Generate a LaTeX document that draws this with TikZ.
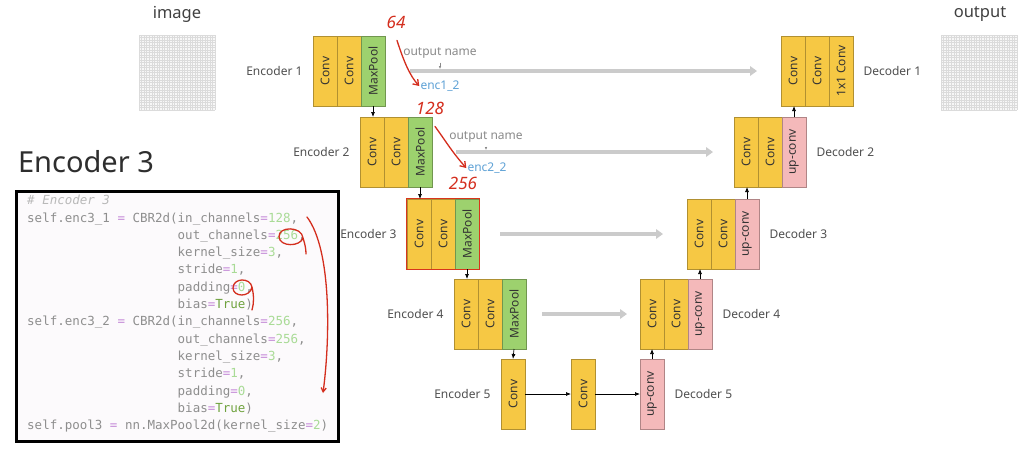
\documentclass[tikz,border=0pt]{standalone}
\usepackage{fontspec}
\setmainfont{Noto Sans}
\newfontfamily\codefont{DejaVu Sans Mono}
\usetikzlibrary{positioning,arrows.meta,fit}

\definecolor{convyel}{HTML}{F6C844}
\definecolor{poolgrn}{HTML}{9DD16E}
\definecolor{upcpink}{HTML}{F4B9BA}
\definecolor{labgray}{HTML}{505050}
\definecolor{skipgray}{HTML}{CBCBCB}
\definecolor{namegray}{HTML}{8A8A8A}
\definecolor{encblue}{HTML}{5FA2D6}
\definecolor{penred}{HTML}{D42E1E}
\definecolor{codegray}{HTML}{8E8E8E}
\definecolor{codeeq}{HTML}{C58BD8}
\definecolor{codenum}{HTML}{A9DB96}
\definecolor{codetrue}{HTML}{6FA23E}
\definecolor{codebg}{HTML}{FCFAFC}

% code helpers
\newcommand\ceq{\textcolor{codeeq}{=}}
\newcommand\cnum[1]{\textcolor{codenum}{#1}}
\newcommand\ctrue{\textcolor{codetrue}{True}}
\newcommand\cind{\phantom{self.enc3\_1 = CBR2d(}}

\tikzset{
  blk/.style={fill=#1, draw=#1!72!black, line width=0.5pt, minimum width=24, minimum height=70,
    inner sep=0, outer sep=0, font=\fontsize{12}{14}\selectfont, text=black!80},
  lbl/.style={font=\fontsize{12}{14}\selectfont, text=labgray},
  skip/.style={draw=skipgray, line width=4.5pt, -{Triangle[length=7pt,width=9.5pt]}},
  flow/.style={draw=black, line width=0.7pt, -{Latex[length=5pt,width=4pt]}},
  oname/.style={font=\fontsize{12}{14}\selectfont, text=namegray, inner sep=1pt},
  ename/.style={font=\fontsize{12}{14}\selectfont, text=encblue, inner sep=1pt},
  pen/.style={draw=penred, line width=1.3pt, line cap=round, line join=round},
  hand/.style={font=\fontsize{17}{18}\bfseries\itshape\selectfont, text=penred, inner sep=0}
}

\begin{document}
\begin{tikzpicture}[x=1pt, y=-1pt]
\useasboundingbox[fill=white] (0,0) rectangle (1034,456);

% input / output pictures
\node[font=\fontsize{16.5}{18}\selectfont, text=black!75] (imgtxt) at (177,14) {image};
\node[font=\fontsize{16.5}{18}\selectfont, text=black!75] (outtxt) at (980,14) {output};
\foreach \gx in {139,941} {
  \fill[gray!6] (\gx,35) rectangle ++(76,75);
  \foreach \k in {0,...,30} {
    \draw[gray!28, line width=0.3pt] (\gx+\k*2.533,35) -- ++(0,75);
    \draw[gray!28, line width=0.3pt] (\gx,35+\k*2.5) -- ++(76,0);
  }
}

% title and code
\node[font=\fontsize{29}{34}\selectfont, text=black!82] (title) at (86,162) {Encoder 3};
\fill[black!18] (18,193) rectangle (339,442);
\node[draw=black, line width=3pt, fill=codebg, minimum width=322, minimum height=250,
  anchor=north west, inner sep=0] (box) at (15,190) {};
\node[anchor=north west, inner sep=0, align=left, text=codegray,
  font=\codefont\fontsize{12.5}{17.3}\selectfont] (src) at (27,195) {%
{\itshape\color{gray!55}\# Encoder 3}\\
self.enc3\_1 \ceq{} CBR2d(in\_channels\ceq\cnum{128},\\
\cind out\_channels\ceq\cnum{256},\\
\cind kernel\_size\ceq\cnum{3},\\
\cind stride\ceq\cnum{1},\\
\cind padding\ceq\cnum{0},\\
\cind bias\ceq\ctrue)\\
self.enc3\_2 \ceq{} CBR2d(in\_channels\ceq\cnum{256},\\
\cind out\_channels\ceq\cnum{256},\\
\cind kernel\_size\ceq\cnum{3},\\
\cind stride\ceq\cnum{1},\\
\cind padding\ceq\cnum{0},\\
\cind bias\ceq\ctrue)\\
self.pool3 \ceq{} nn.MaxPool2d(kernel\_size\ceq\cnum{2})};

% encoders
\foreach \i/\x/\y in {1/313/36, 2/360/117, 3/407/199, 4/454/279} {
  \node[blk=convyel, anchor=north west] (e\i-1) at (\x,\y) {\rotatebox{90}{Conv}};
  \node[blk=convyel, right=0pt of e\i-1] (e\i-2) {\rotatebox{90}{Conv}};
  \node[blk=poolgrn, right=0pt of e\i-2] (e\i-3) {\rotatebox{90}{MaxPool}};
  \node[lbl, left=7pt of e\i-1] (el\i) {Encoder \i};
}
\node[blk=convyel, anchor=north west] (e5) at (501,359) {\rotatebox{90}{Conv}};
\node[lbl, left=7pt of e5] (el5) {Encoder 5};
\node[blk=convyel, anchor=north west] (mid) at (571,359) {\rotatebox{90}{Conv}};

% decoders
\foreach \i/\x/\y/\f/\t in {1/781/36/convyel/1x1 Conv, 2/734/117/upcpink/up-conv,
    3/687/199/upcpink/up-conv, 4/640/279/upcpink/up-conv} {
  \node[blk=convyel, anchor=north west] (d\i-1) at (\x,\y) {\rotatebox{90}{Conv}};
  \node[blk=convyel, right=0pt of d\i-1] (d\i-2) {\rotatebox{90}{Conv}};
  \node[blk=\f, right=0pt of d\i-2] (d\i-3) {\rotatebox{90}{\t}};
  \node[lbl, right=7pt of d\i-3] (dl\i) {Decoder \i};
}
\node[blk=upcpink, anchor=north west] (d5) at (640,359) {\rotatebox{90}{up-conv}};
\node[lbl, right=7pt of d5] (dl5) {Decoder 5};

% highlighted block
\node[draw=penred!90!orange, line width=1.6pt, fit=(e3-1)(e3-3), inner sep=0.6pt] (e3box) {};

% flow arrows
\foreach \i/\j in {1/2, 2/3, 3/4}
  \draw[flow] (e\i-3.south) -- (e\i-3.south |- e\j-1.north);
\draw[flow] (e4-3.south) -- (e5.north);
\draw[flow] (e5.east) -- (mid.west);
\draw[flow] (mid.east) -- (d5.west);
\draw[flow] (d5.north) -- (d4-1.south);
\foreach \i/\j in {4/3, 3/2, 2/1}
  \draw[flow] (d\i-3.north) -- (d\i-3.north |- d\j-1.south);

% skip connections
\foreach \i/\s/\t in {1/25/24, 2/24/21, 3/21/24, 4/16/13}
  \draw[skip, shorten <=\s pt, shorten >=\t pt] (e\i-3.east) -- (d\i-1.west);

% output names
\node[oname] (on1) at (440,53) {output name};
\node[oname] (on2) at (486,137) {output name};
\node[ename] (enc1) at (440,86) {enc1\_2};
\node[ename] (enc2) at (487,168) {enc2\_2};
\foreach \i in {1,2}
  \draw[namegray, line width=0.5pt, shorten <=3pt, shorten >=2pt, -{Latex[length=3pt,width=2.5pt]}]
    (on\i.south) -- (on\i.south |- e\i-3.east);

% handwritten notes
\node[hand] (n64) at (396,22) {64};
\node[hand] (n128) at (430,108) {128};
\node[hand] (n256) at (463,183) {256};
\draw[pen, -{Straight Barb[length=5pt,width=7pt]}] (n64.south) ++(1,12) .. controls (404,62) and (410,76) .. (enc1.west);
\draw[pen, -{Straight Barb[length=5pt,width=7pt]}] (n128.south) ++(5,12) .. controls (445,140) and (452,152) .. (enc2.west);

% pen marks on the code
\draw[pen] (303,238) .. controls (302,226) and (278,226) .. (279,237)
  .. controls (280,247) and (300,247) .. (303,238) .. controls (305,244) and (306,249) .. (306,254);
\draw[pen] (252,287) .. controls (250,277) and (233,278) .. (233,288)
  .. controls (233,297) and (250,298) .. (252,287) .. controls (254,296) and (254,303) .. (252,310);
\draw[pen, -{Straight Barb[length=4pt,width=5pt]}] (307,217) .. controls (332,250) and (330,340) .. (323,393);
\end{tikzpicture}
\end{document}
